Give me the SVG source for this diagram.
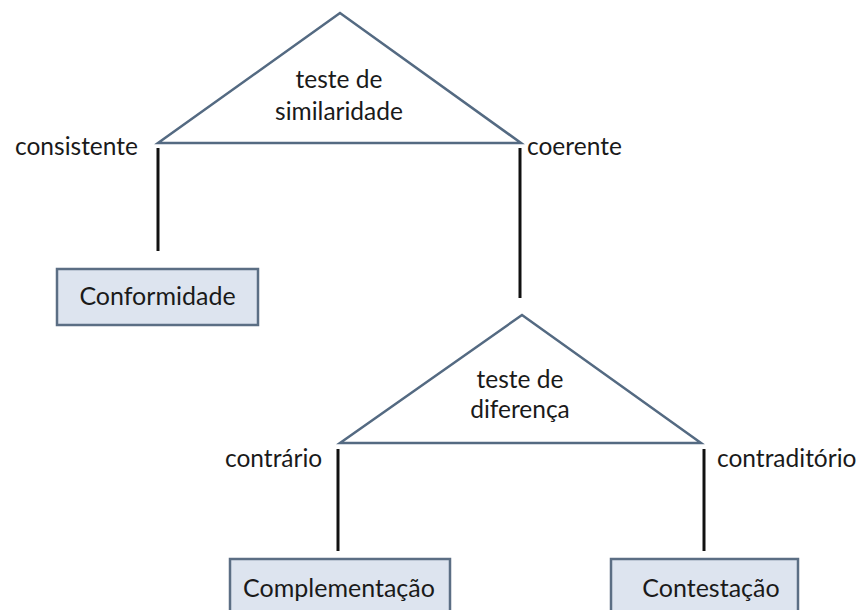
<svg xmlns="http://www.w3.org/2000/svg" width="867" height="610" viewBox="0 0 867 610">
<style>
.tri{fill:#fff;stroke:#546a82;stroke-width:2.5;stroke-linejoin:miter}
.box{fill:#dde4ef;stroke:#5b6e84;stroke-width:2.5}
.ln{stroke:#111;stroke-width:3}
text{font-family:Lato,"Open Sans",sans-serif;fill:#1a1a1a}
.lbl{font-size:24.5px}
.tt{font-size:24.5px;text-anchor:middle}
.bt{font-size:25px;text-anchor:middle}
</style>
<rect width="867" height="610" fill="#fff"/>
<g id="connectors">
<line class="ln" x1="158" y1="148" x2="158" y2="251"/>
<line class="ln" x1="520" y1="148" x2="520" y2="298"/>
<line class="ln" x1="338" y1="449" x2="338" y2="551"/>
<line class="ln" x1="704" y1="449" x2="704" y2="551"/>
</g>
<g id="test-similaridade">
<polygon class="tri" points="340,13 158,143 521,143"/>
<text class="tt" x="339" y="88">teste de</text>
<text class="tt" x="339" y="120">similaridade</text>
</g>
<g id="test-diferenca">
<polygon class="tri" points="522,315 340,443 701,443"/>
<text class="tt" x="520" y="388">teste de</text>
<text class="tt" x="520" y="418">diferença</text>
</g>
<g id="labels">
<text class="lbl" x="15" y="155">consistente</text>
<text class="lbl" x="527" y="155">coerente</text>
<text class="lbl" x="225" y="467">contrário</text>
<text class="lbl" x="717" y="467">contraditório</text>
</g>
<g id="conformidade">
<rect class="box" x="57" y="269" width="201" height="56"/>
<text class="bt" x="157.5" y="305">Conformidade</text>
</g>
<g id="complementacao">
<rect class="box" x="230" y="559" width="220" height="60"/>
<text class="bt" x="339" y="597">Complementação</text>
</g>
<g id="contestacao">
<rect class="box" x="611" y="559" width="187" height="60"/>
<text class="bt" x="711" y="597">Contestação</text>
</g>
</svg>
